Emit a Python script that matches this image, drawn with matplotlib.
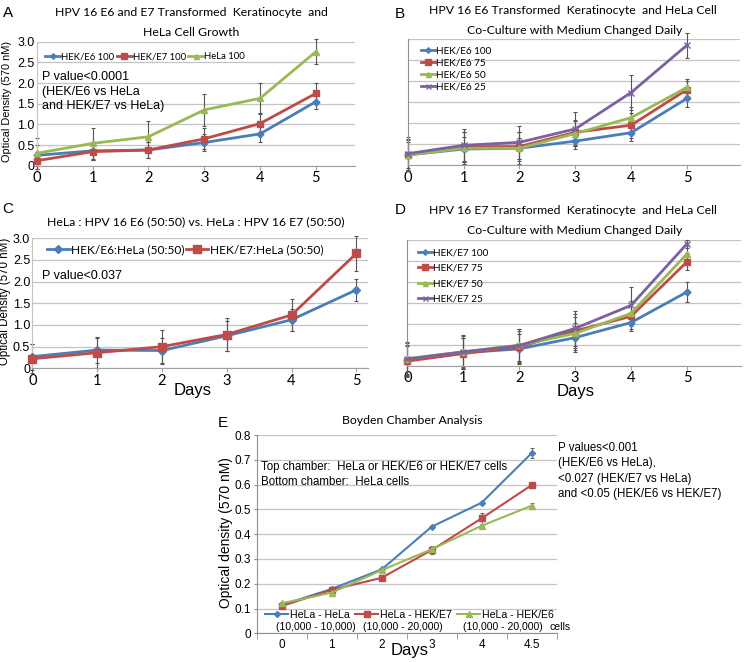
import matplotlib
matplotlib.use('Agg')
import matplotlib.pyplot as plt
import numpy as np

# ---- data ----
days = [0, 1, 2, 3, 4, 5]

# panel A
a_e6 = [0.25, 0.36, 0.38, 0.56, 0.77, 1.55]
a_e7 = [0.12, 0.34, 0.38, 0.65, 1.02, 1.75]
a_hela = [0.30, 0.54, 0.70, 1.35, 1.63, 2.76]
a_e6_err = [0.25, 0.22, 0.2, 0.2, 0.2, 0.18]
a_e7_err = [0.2, 0.2, 0.2, 0.25, 0.25, 0.26]
a_hela_err = [0.38, 0.38, 0.38, 0.38, 0.38, 0.3]

# panel B
b_100 = [0.24, 0.38, 0.40, 0.57, 0.77, 1.59]
b_75 = [0.24, 0.44, 0.44, 0.78, 0.95, 1.80]
b_50 = [0.24, 0.40, 0.40, 0.75, 1.13, 1.85]
b_25 = [0.27, 0.47, 0.54, 0.86, 1.73, 2.86]
b_100_err = [0.3, 0.3, 0.25, 0.2, 0.2, 0.2]
b_75_err = [0.35, 0.35, 0.35, 0.3, 0.3, 0.2]
b_50_err = [0.38, 0.38, 0.38, 0.3, 0.25, 0.2]
b_25_err = [0.4, 0.4, 0.4, 0.41, 0.41, 0.3]

# panel C
c_e6 = [0.27, 0.42, 0.41, 0.75, 1.12, 1.81]
c_e7 = [0.22, 0.36, 0.50, 0.78, 1.23, 2.65]
c_e6_err = [0.3, 0.3, 0.3, 0.35, 0.25, 0.25]
c_e7_err = [0.33, 0.35, 0.38, 0.38, 0.38, 0.4]

# panel D
d_100 = [0.13, 0.31, 0.40, 0.67, 1.03, 1.76]
d_75 = [0.11, 0.29, 0.45, 0.83, 1.18, 2.48]
d_50 = [0.17, 0.33, 0.49, 0.77, 1.25, 2.67]
d_25 = [0.16, 0.33, 0.48, 0.89, 1.44, 2.91]
d_100_err = [0.35, 0.35, 0.35, 0.35, 0.2, 0.24]
d_75_err = [0.38, 0.38, 0.38, 0.4, 0.3, 0.2]
d_50_err = [0.38, 0.38, 0.38, 0.4, 0.3, 0.2]
d_25_err = [0.4, 0.4, 0.4, 0.42, 0.43, 0.1]

# panel E
e_days = ['0', '1', '2', '3', '4', '4.5']
e_hela = [0.114, 0.179, 0.258, 0.430, 0.527, 0.727]
e_e7 = [0.110, 0.175, 0.224, 0.336, 0.464, 0.598]
e_e6 = [0.121, 0.164, 0.255, 0.339, 0.434, 0.515]
e_hela_err = [0.004, 0.004, 0.004, 0.004, 0.004, 0.02]
e_e7_err = [0.004, 0.004, 0.004, 0.015, 0.022, 0.004]
e_e6_err = [0.004, 0.004, 0.004, 0.01, 0.004, 0.01]
e_groups = ['(10,000 - 10,000)', '(10,000 - 20,000)', '(10,000 - 20,000)', 'cells']

BLUE = '#4a7ebb'
RED = '#be4b48'
GREEN = '#98b954'
PURPLE = '#7d60a0'
GRID = '#c4c4c4'
CAL = ['Lato', 'DejaVu Sans']
ARI = ['Liberation Sans', 'DejaVu Sans']

W, H = 750, 662
fig = plt.figure(figsize=(7.5, 6.62), dpi=100)


def px_axes(l, t, r, b):
    return fig.add_axes([l / W, 1 - b / H, (r - l) / W, (b - t) / H])


def ftext(x, y, s, **kw):
    fig.text(x / W, 1 - y / H, s, **kw)


def style(ax, xmax, yticks_on=True):
    ax.set_xlim(0, xmax)
    ax.set_ylim(0, 3.0)
    ax.set_yticks(np.arange(0, 3.01, 0.5))
    ax.grid(axis='y', color=GRID, lw=0.9)
    ax.set_axisbelow(True)
    for s in ['top', 'right']:
        ax.spines[s].set_visible(False)
    ax.spines['left'].set_color(GRID)
    ax.spines['bottom'].set_color('#a0a0a0')
    ax.set_xticks(days)
    ax.set_xticklabels([str(d) for d in days], fontfamily=CAL, fontsize=10.5)
    ax.tick_params(axis='x', length=3, color='#a0a0a0', pad=1)
    ax.tick_params(axis='y', length=0, pad=1.5)
    if yticks_on:
        ax.set_yticklabels(['0', '0.5', '1.0', '1.5', '2.0', '2.5', '3.0'],
                           fontfamily=ARI, fontsize=9)
    else:
        ax.set_yticklabels([])


def series(ax, y, err, color, marker, ms, label):
    ax.errorbar(days, y, yerr=err, fmt='none', ecolor='#555555', elinewidth=0.8,
                capsize=1.5, capthick=0.8, clip_on=False, zorder=2)
    ax.plot(days, y, color=color, lw=2, marker=marker, ms=ms, mfc=color, mec=color,
            label=label, clip_on=False, zorder=3)


# ---- panel A ----
ax = px_axes(36.7, 41.7, 355, 165.7)
style(ax, 5.7)
series(ax, a_e6, a_e6_err, BLUE, 'D', 3.5, 'HEK/E6 100')
series(ax, a_e7, a_e7_err, RED, 's', 5, 'HEK/E7 100')
series(ax, a_hela, a_hela_err, GREEN, '^', 4.5, 'HeLa 100')
ax.legend(loc='center left', bbox_to_anchor=(0.026, 0.877), ncol=3, frameon=False,
          prop={'family': CAL, 'size': 6.8}, handlelength=1.6, handletextpad=0.1,
          columnspacing=0.25, borderaxespad=0, borderpad=0, markerscale=0.8)
ax.text(0.017, 0.76, 'P value<0.0001\n(HEK/E6 vs HeLa\nand HEK/E7 vs HeLa)',
        transform=ax.transAxes, fontfamily=ARI, fontsize=9, va='top', linespacing=1.25)
ftext(7, 101, 'Optical Density (570 nM)', rotation=90, fontfamily=ARI, fontsize=7.9,
      ha='center', va='center')
ftext(3, 13, 'A', fontfamily=ARI, fontsize=11, va='center')
ftext(191, 13, 'HPV 16 E6 and E7 Transformed  Keratinocyte  and', fontfamily=CAL,
      fontsize=8.8, ha='center', va='center')
ftext(191, 32, 'HeLa Cell Growth', fontfamily=CAL, fontsize=8.8, ha='center', va='center')

# ---- panel B ----
ax = px_axes(407.7, 39.3, 740, 165)
style(ax, 5.95, yticks_on=False)
ax.spines['left'].set_color('#909090')
series(ax, b_100, b_100_err, BLUE, 'D', 3.5, 'HEK/E6 100')
series(ax, b_75, b_75_err, RED, 's', 5, 'HEK/E6 75')
series(ax, b_50, b_50_err, GREEN, '^', 4.5, 'HEK/E6 50')
series(ax, b_25, b_25_err, PURPLE, 'x', 4.5, 'HEK/E6 25')
ax.legend(loc='upper left', bbox_to_anchor=(0.04, 0.945), frameon=False,
          prop={'family': CAL, 'size': 7.2}, handlelength=1.4, handletextpad=0.1,
          labelspacing=0.3, borderaxespad=0, borderpad=0, markerscale=0.8)
ftext(395, 14, 'B', fontfamily=ARI, fontsize=11, va='center')
ftext(573, 10, 'HPV 16 E6 Transformed  Keratinocyte  and HeLa Cell', fontfamily=CAL,
      fontsize=8.8, ha='center', va='center')
ftext(575, 30, 'Co-Culture with Medium Changed Daily', fontfamily=CAL, fontsize=8.8,
      ha='center', va='center')

# ---- panel C ----
ax = px_axes(32.3, 238.3, 368, 368.3)
style(ax, 5.18)
series(ax, c_e6, c_e6_err, BLUE, 'D', 4, 'HEK/E6:HeLa (50:50)')
series(ax, c_e7, c_e7_err, RED, 's', 6, 'HEK/E7:HeLa (50:50)')
ax.legend(loc='center left', bbox_to_anchor=(0.044, 0.91), ncol=2, frameon=False,
          prop={'family': CAL, 'size': 8.6}, handlelength=1.9, handletextpad=0.1,
          columnspacing=0.1, borderaxespad=0, borderpad=0)
ax.text(0.03, 0.71, 'P value<0.037', transform=ax.transAxes, fontfamily=ARI,
        fontsize=9, va='center')
ftext(5, 301, 'Optical Density (570 nM)', rotation=90, fontfamily=ARI, fontsize=8.3,
      ha='center', va='center')
ftext(193, 391, 'Days', fontfamily=ARI, fontsize=12, ha='center', va='center')
ftext(2, 209, 'C', fontfamily=ARI, fontsize=11, va='center')
ftext(196, 222, 'HeLa : HPV 16 E6 (50:50) vs. HeLa : HPV 16 E7 (50:50)', fontfamily=CAL,
      fontsize=8.8, ha='center', va='center')

# ---- panel D ----
ax = px_axes(407.3, 240, 740.7, 365.7)
style(ax, 5.96, yticks_on=False)
ax.spines['left'].set_color('#909090')
series(ax, d_100, d_100_err, BLUE, 'D', 3.5, 'HEK/E7 100')
series(ax, d_75, d_75_err, RED, 's', 5, 'HEK/E7 75')
series(ax, d_50, d_50_err, GREEN, '^', 4.5, 'HEK/E7 50')
series(ax, d_25, d_25_err, PURPLE, 'x', 4.5, 'HEK/E7 25')
ax.legend(loc='upper left', bbox_to_anchor=(0.031, 0.93), frameon=False,
          prop={'family': CAL, 'size': 7.2}, handlelength=1.4, handletextpad=0.1,
          labelspacing=0.62, borderaxespad=0, borderpad=0, markerscale=0.8)
ftext(576, 392, 'Days', fontfamily=ARI, fontsize=12, ha='center', va='center')
ftext(395, 210, 'D', fontfamily=ARI, fontsize=11, va='center')
ftext(573, 210, 'HPV 16 E7 Transformed  Keratinocyte  and HeLa Cell', fontfamily=CAL,
      fontsize=8.8, ha='center', va='center')
ftext(575, 230, 'Co-Culture with Medium Changed Daily', fontfamily=CAL, fontsize=8.8,
      ha='center', va='center')

# ---- panel E ----
ax = px_axes(256.7, 435, 556.7, 633.3)
xe = np.arange(len(e_days))
ax.set_xlim(-0.5, len(e_days) - 0.5)
ax.set_ylim(0, 0.8)
ax.set_yticks(np.arange(0, 0.81, 0.1))
ax.set_yticklabels(['0', '0.1', '0.2', '0.3', '0.4', '0.5', '0.6', '0.7', '0.8'],
                   fontfamily=ARI, fontsize=8.5)
ax.grid(axis='y', color=GRID, lw=0.9)
ax.set_axisbelow(True)
for s in ['top', 'right']:
    ax.spines[s].set_visible(False)
ax.spines['left'].set_color('#909090')
ax.spines['bottom'].set_color('#909090')
ax.set_xticks(xe)
ax.set_xticklabels(e_days, fontfamily=ARI, fontsize=8.5)
ax.set_xticks(np.arange(-0.5, len(e_days)), minor=True)
ax.tick_params(axis='x', which='major', length=0, pad=4)
ax.tick_params(axis='x', which='minor', length=4, color='#909090')
ax.tick_params(axis='y', length=2.5, color='#909090', pad=1.5)
for y, err, col, mk, ms, lab in [(e_hela, e_hela_err, BLUE, 'D', 3, 'HeLa - HeLa'),
                                 (e_e7, e_e7_err, RED, 's', 4.5, 'HeLa - HEK/E7'),
                                 (e_e6, e_e6_err, GREEN, '^', 4.5, 'HeLa - HEK/E6')]:
    ax.errorbar(xe, y, yerr=err, fmt='none', ecolor='#666666', elinewidth=0.8,
                capsize=1.5, capthick=0.8, zorder=2)
    ax.plot(xe, y, color=col, lw=1.5, marker=mk, ms=ms, label=lab, zorder=3)
ax.legend(loc='center left', bbox_to_anchor=(0.028, 0.092), ncol=3, frameon=False,
          prop={'family': ARI, 'size': 7.6}, handlelength=2.2, handletextpad=0.15,
          columnspacing=0.5, borderaxespad=0, borderpad=0)
for x, s in zip([316, 403, 503, 560], e_groups):
    ftext(x, 627, s, fontfamily=ARI, fontsize=7.6, ha='center', va='center')
ax.text(0.015, 0.80, 'Top chamber:  HeLa or HEK/E6 or HEK/E7 cells\nBottom chamber:  HeLa cells',
        transform=ax.transAxes, fontfamily=ARI, fontsize=8.3, va='center', linespacing=1.3)
ftext(558, 471, 'P values<0.001\n(HEK/E6 vs HeLa),\n<0.027 (HEK/E7 vs HeLa)\nand <0.05 (HEK/E6 vs HEK/E7)',
      fontfamily=ARI, fontsize=8.3, va='center', linespacing=1.35)
ftext(226, 533, 'Optical density (570 nM)', rotation=90, fontfamily=ARI, fontsize=10,
      ha='center', va='center')
ftext(410, 650, 'Days', fontfamily=ARI, fontsize=12, ha='center', va='center')
ftext(223, 423, 'E', fontfamily=ARI, fontsize=11, ha='center', va='center')
ftext(412, 420, 'Boyden Chamber Analysis', fontfamily=CAL, fontsize=8.8, ha='center',
      va='center')

fig.savefig('out.png', dpi=100)
